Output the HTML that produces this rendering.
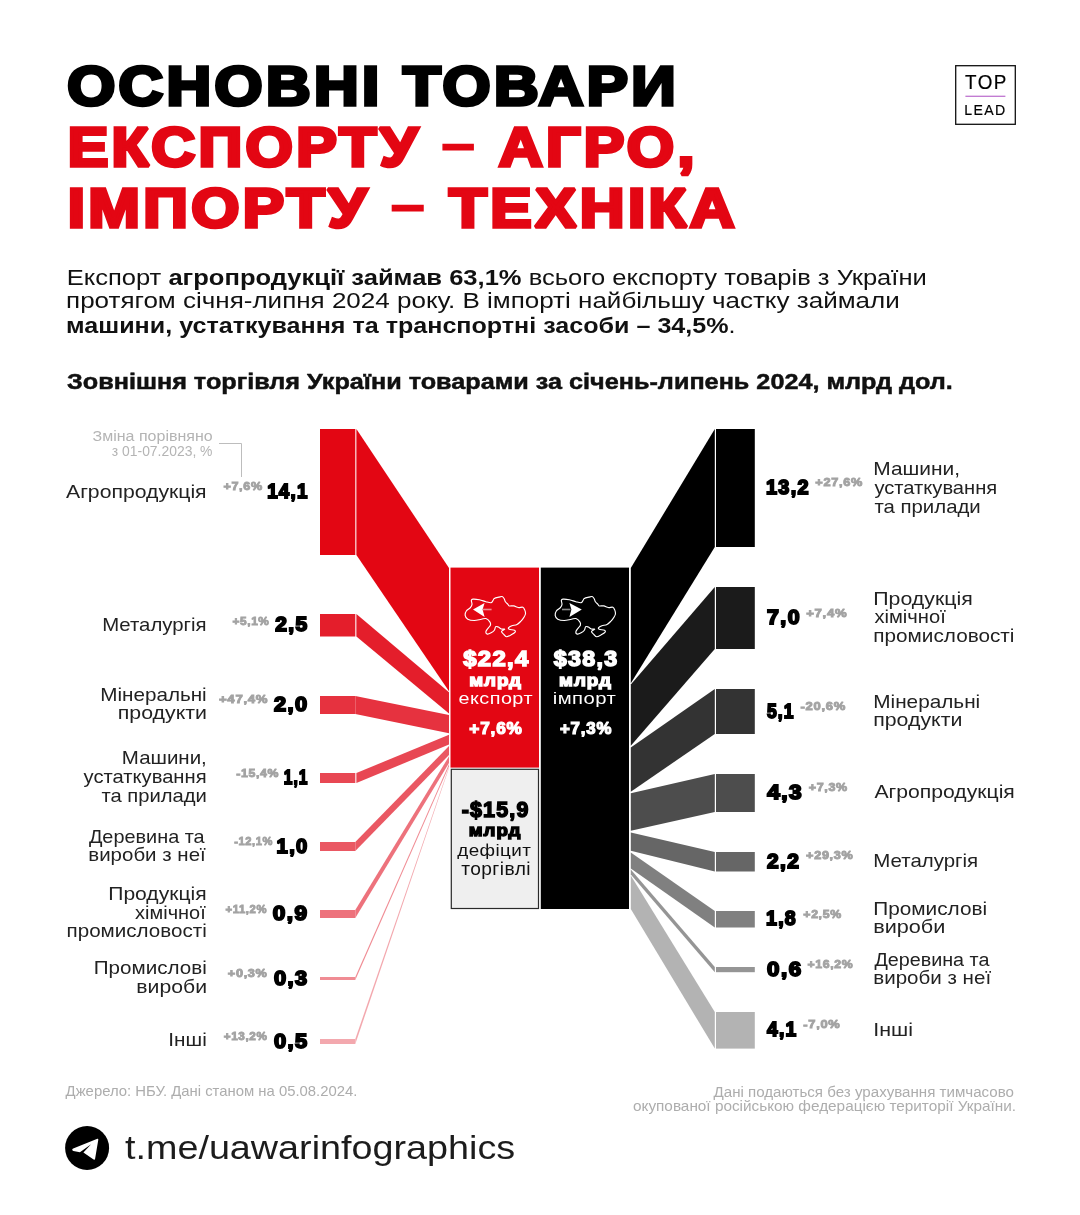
<!DOCTYPE html>
<html><head><meta charset="utf-8"><title>Основні товари експорту</title>
<style>html,body{margin:0;padding:0;background:#fff;width:1080px;height:1215px;overflow:hidden;position:relative}</style>
</head><body>
<svg width="1080" height="1215" viewBox="0 0 1080 1215" style="position:absolute;left:0;top:0;will-change:transform">
<rect width="1080" height="1215" fill="#fff"/>
<g font-family="Liberation Sans, sans-serif" style="white-space:pre">
<!-- logo box -->
<rect x="955.7" y="65.7" width="59.6" height="58.6" fill="none" stroke="#111" stroke-width="1.3"/>
<rect x="965.4" y="95.7" width="40" height="1.1" fill="#B45CC8"/>
<!-- connector -->
<polyline points="219,443.5 241.5,443.5 241.5,477" fill="none" stroke="#BDBDBD" stroke-width="1"/>
<rect x="320" y="429" width="35.3" height="126" fill="#E30613"/>
<polygon points="356.4,429 449,568 449,691.3 356.4,555" fill="#E30613"/>
<rect x="320" y="614" width="35.3" height="22.5" fill="#E41E2B"/>
<polygon points="356.4,614 449,692.3 449,713.6 356.4,636.5" fill="#E41E2B"/>
<rect x="320" y="696" width="35.3" height="18" fill="#E6323F"/>
<polygon points="355.3,696 449,715.1 449,733.2 355.3,714" fill="#E6323F"/>
<rect x="320" y="773" width="35.3" height="10" fill="#E84753"/>
<polygon points="356.4,773 449,734.8 449,744.6 356.4,783" fill="#E84753"/>
<rect x="320" y="842" width="35.3" height="9" fill="#EA5863"/>
<polygon points="355.3,842 449,746 449,755 355.3,851" fill="#EA5863"/>
<rect x="320" y="910" width="35.3" height="8" fill="#ED727C"/>
<polygon points="355.3,910 449,756.3 449,763 355.3,918" fill="#ED727C"/>
<rect x="320" y="977" width="35.3" height="3" fill="#F08C94"/>
<polygon points="355.3,977 449,764 449,766.2 355.3,980" fill="#F08C94"/>
<rect x="320" y="1039" width="35.3" height="5" fill="#F3A8AE"/>
<polygon points="355.3,1039 449,766.8 449,768 355.3,1044" fill="#F3A8AE"/>
<rect x="716" y="429" width="38.8" height="118" fill="#000000"/>
<polygon points="630.8,568 714.8,429 714.8,547 630.8,683.3" fill="#000000"/>
<rect x="716" y="587" width="38.8" height="62" fill="#1B1B1B"/>
<polygon points="630.8,684.6 714.8,587 714.8,649 630.8,745.8" fill="#1B1B1B"/>
<rect x="716" y="689" width="38.8" height="45" fill="#333333"/>
<polygon points="630.8,747.4 714.8,689 714.8,734 630.8,791.7" fill="#333333"/>
<rect x="716" y="774" width="38.8" height="38" fill="#4D4D4D"/>
<polygon points="630.8,793.2 714.8,774 714.8,812 630.8,830.8" fill="#4D4D4D"/>
<rect x="716" y="852" width="38.8" height="19.5" fill="#666666"/>
<polygon points="630.8,832.4 714.8,852 714.8,871.5 630.8,850.8" fill="#666666"/>
<rect x="716" y="911" width="38.8" height="16.5" fill="#808080"/>
<polygon points="630.8,852.4 714.8,911 714.8,927.5 630.8,868.5" fill="#808080"/>
<rect x="716" y="967" width="38.8" height="5.2000000000000455" fill="#959595"/>
<polygon points="630.8,869.6 714.8,967 714.8,972.2 630.8,874.6" fill="#959595"/>
<rect x="716" y="1012" width="38.8" height="36.59999999999991" fill="#B3B3B3"/>
<polygon points="630.8,875.6 714.8,1012 714.8,1048.6 630.8,909" fill="#B3B3B3"/>
<!-- central boxes -->
<rect x="450.5" y="567.6" width="88.5" height="200" fill="#E30613"/>
<rect x="540.8" y="567.6" width="88.2" height="341.4" fill="#000"/>
<rect x="451.3" y="769.3" width="87.2" height="139.2" fill="#EFEFEF" stroke="#2a2a2a" stroke-width="1.2"/>
<!-- maps -->
<g transform="translate(-90,0)"><path d="M561.34,600.43 C561.50,599.56 561.61,599.24 562.96,599.13 C564.31,599.02 567.28,599.34 569.44,599.78 C571.60,600.21 573.98,601.24 575.92,601.72 C577.87,602.21 579.92,602.91 581.11,602.69 C582.30,602.48 582.51,601.13 583.05,600.43 C583.59,599.72 583.38,599.02 584.35,598.48 C585.32,597.94 587.59,597.51 588.89,597.18 C590.18,596.86 591.26,596.32 592.13,596.54 C592.99,596.75 593.53,597.62 594.07,598.48 C594.61,599.34 594.72,600.75 595.37,601.72 C596.01,602.69 597.31,603.61 597.96,604.31 C598.61,605.02 598.28,605.66 599.25,605.93 C600.23,606.20 602.28,605.66 603.79,605.93 C605.30,606.20 606.82,607.34 608.33,607.55 C609.84,607.77 611.78,606.80 612.86,607.23 C613.94,607.66 614.38,609.01 614.81,610.15 C615.24,611.28 615.67,612.74 615.46,614.03 C615.24,615.33 614.27,616.74 613.51,617.92 C612.76,619.11 612.00,620.08 610.92,621.16 C609.84,622.24 608.54,623.65 607.03,624.40 C605.52,625.16 603.25,625.16 601.85,625.70 C600.44,626.24 599.04,627.05 598.61,627.64 C598.17,628.24 598.28,628.83 599.25,629.27 C600.23,629.70 603.47,629.75 604.44,630.24 C605.41,630.72 605.63,631.43 605.09,632.18 C604.55,632.94 602.60,634.02 601.20,634.77 C599.79,635.53 597.85,636.72 596.66,636.72 C595.47,636.72 594.93,635.64 594.07,634.77 C593.21,633.91 591.37,632.45 591.48,631.53 C591.59,630.62 594.72,629.70 594.72,629.27 C594.72,628.83 592.56,629.32 591.48,628.94 C590.40,628.56 589.21,627.37 588.24,627.00 C587.27,626.62 586.29,626.13 585.64,626.67 C585.00,627.21 585.10,629.21 584.35,630.24 C583.59,631.26 582.30,632.18 581.11,632.83 C579.92,633.48 578.08,634.34 577.22,634.13 C576.36,633.91 575.71,632.61 575.92,631.53 C576.14,630.45 577.76,628.72 578.52,627.64 C579.27,626.56 580.24,626.02 580.46,625.05 C580.68,624.08 580.57,622.89 579.81,621.81 C579.06,620.73 577.33,619.00 575.92,618.57 C574.52,618.14 573.33,618.90 571.39,619.22 C569.44,619.54 566.53,620.52 564.26,620.52 C561.99,620.52 559.29,620.08 557.78,619.22 C556.26,618.36 555.40,616.74 555.18,615.33 C554.97,613.93 555.62,612.09 556.48,610.79 C557.34,609.50 559.45,608.63 560.37,607.55 C561.29,606.47 561.83,605.50 561.99,604.31 C562.15,603.13 561.18,601.29 561.34,600.43 Z" fill="none" stroke="#fff" stroke-width="1.15" stroke-linejoin="round"/></g>
<path d="M473,609.5 L484.6,603 L482.6,609.5 L484.6,617 Z" fill="#fff"/>
<rect x="482.6" y="608.7" width="9" height="1.6" fill="#F08A91"/>
<path d="M561.34,600.43 C561.50,599.56 561.61,599.24 562.96,599.13 C564.31,599.02 567.28,599.34 569.44,599.78 C571.60,600.21 573.98,601.24 575.92,601.72 C577.87,602.21 579.92,602.91 581.11,602.69 C582.30,602.48 582.51,601.13 583.05,600.43 C583.59,599.72 583.38,599.02 584.35,598.48 C585.32,597.94 587.59,597.51 588.89,597.18 C590.18,596.86 591.26,596.32 592.13,596.54 C592.99,596.75 593.53,597.62 594.07,598.48 C594.61,599.34 594.72,600.75 595.37,601.72 C596.01,602.69 597.31,603.61 597.96,604.31 C598.61,605.02 598.28,605.66 599.25,605.93 C600.23,606.20 602.28,605.66 603.79,605.93 C605.30,606.20 606.82,607.34 608.33,607.55 C609.84,607.77 611.78,606.80 612.86,607.23 C613.94,607.66 614.38,609.01 614.81,610.15 C615.24,611.28 615.67,612.74 615.46,614.03 C615.24,615.33 614.27,616.74 613.51,617.92 C612.76,619.11 612.00,620.08 610.92,621.16 C609.84,622.24 608.54,623.65 607.03,624.40 C605.52,625.16 603.25,625.16 601.85,625.70 C600.44,626.24 599.04,627.05 598.61,627.64 C598.17,628.24 598.28,628.83 599.25,629.27 C600.23,629.70 603.47,629.75 604.44,630.24 C605.41,630.72 605.63,631.43 605.09,632.18 C604.55,632.94 602.60,634.02 601.20,634.77 C599.79,635.53 597.85,636.72 596.66,636.72 C595.47,636.72 594.93,635.64 594.07,634.77 C593.21,633.91 591.37,632.45 591.48,631.53 C591.59,630.62 594.72,629.70 594.72,629.27 C594.72,628.83 592.56,629.32 591.48,628.94 C590.40,628.56 589.21,627.37 588.24,627.00 C587.27,626.62 586.29,626.13 585.64,626.67 C585.00,627.21 585.10,629.21 584.35,630.24 C583.59,631.26 582.30,632.18 581.11,632.83 C579.92,633.48 578.08,634.34 577.22,634.13 C576.36,633.91 575.71,632.61 575.92,631.53 C576.14,630.45 577.76,628.72 578.52,627.64 C579.27,626.56 580.24,626.02 580.46,625.05 C580.68,624.08 580.57,622.89 579.81,621.81 C579.06,620.73 577.33,619.00 575.92,618.57 C574.52,618.14 573.33,618.90 571.39,619.22 C569.44,619.54 566.53,620.52 564.26,620.52 C561.99,620.52 559.29,620.08 557.78,619.22 C556.26,618.36 555.40,616.74 555.18,615.33 C554.97,613.93 555.62,612.09 556.48,610.79 C557.34,609.50 559.45,608.63 560.37,607.55 C561.29,606.47 561.83,605.50 561.99,604.31 C562.15,603.13 561.18,601.29 561.34,600.43 Z" fill="none" stroke="#fff" stroke-width="1.15" stroke-linejoin="round"/>
<path d="M581.8,609.5 L569.4,603 L571.4,609.5 L569.4,617 Z" fill="#fff"/>
<rect x="562" y="608.7" width="8.5" height="1.6" fill="#8A8A8A"/>
<!-- telegram -->
<circle cx="87.1" cy="1148" r="22" fill="#000"/>
<path d="M97.4,1138.8 L73.2,1148.6 C71.8,1149.3 72,1150.6 73.4,1151 L79.9,1152.2 L91.1,1144.2 L83.4,1152.6 L93.6,1159.6 C94.6,1160 95,1159.5 95.1,1158.8 L98.3,1139.8 C98.4,1139 98,1138.6 97.4,1138.8 Z" fill="#fff"/>
<text transform="matrix(1.1269 0 0 1 67.17 104.70)" font-size="54.8" fill="#000" stroke="#000" stroke-width="3.6" stroke-linejoin="miter" stroke-miterlimit="2" letter-spacing="3"><tspan font-weight="bold">ОСНОВНІ ТОВАРИ</tspan></text>
<text transform="matrix(1.1106 0 0 1 67.67 165.80)" font-size="54.8" fill="#E30613" stroke="#E30613" stroke-width="3.6" stroke-linejoin="miter" stroke-miterlimit="2" letter-spacing="3"><tspan font-weight="bold">ЕКСПОРТУ </tspan><tspan font-weight="bold" dy="-3.5" stroke-width="1.2">–</tspan><tspan font-weight="bold" dy="3.5"> АГРО,</tspan></text>
<text transform="matrix(1.1313 0 0 1 67.64 226.90)" font-size="54.8" fill="#E30613" stroke="#E30613" stroke-width="3.6" stroke-linejoin="miter" stroke-miterlimit="2" letter-spacing="3"><tspan font-weight="bold">ІМПОРТУ </tspan><tspan font-weight="bold" dy="-3.5" stroke-width="1.2">–</tspan><tspan font-weight="bold" dy="3.5"> ТЕХНІКА</tspan></text>
<text transform="matrix(0.9387 0 0 1 965.09 88.90)" font-size="20.06" fill="#000" stroke="#000" stroke-width="0.2" stroke-linejoin="miter" stroke-miterlimit="2" letter-spacing="1.5"><tspan font-weight="normal">TOP</tspan></text>
<text transform="matrix(0.9073 0 0 1 964.18 114.50)" font-size="15.55" fill="#000" stroke="#000" stroke-width="0.2" stroke-linejoin="miter" stroke-miterlimit="2" letter-spacing="1.5"><tspan font-weight="normal">LEAD</tspan></text>
<text transform="matrix(1.1272 0 0 1 66.67 284.80)" font-size="22.67" fill="#111"><tspan font-weight="normal">Експорт </tspan><tspan font-weight="bold">агропродукції займав 63,1%</tspan><tspan font-weight="normal"> всього експорту товарів з України</tspan></text>
<text transform="matrix(1.1481 0 0 1 66.05 308.10)" font-size="22.67" fill="#111"><tspan font-weight="normal">протягом січня-липня 2024 року. В імпорті найбільшу частку займали</tspan></text>
<text transform="matrix(1.1074 0 0 1 66.09 332.60)" font-size="22.67" fill="#111"><tspan font-weight="bold">машини, устаткування та транспортні засоби – 34,5%</tspan><tspan font-weight="normal">.</tspan></text>
<text transform="matrix(1.1343 0 0 1 66.98 388.85)" font-size="22.24" fill="#111" stroke="#111" stroke-width="0.5" stroke-linejoin="miter" stroke-miterlimit="2"><tspan font-weight="bold">Зовнішня торгівля України товарами за січень-липень 2024, млрд дол.</tspan></text>
<text transform="matrix(1.1359 0 0 1 92.50 440.50)" font-size="14.1" fill="#B4B4B4"><tspan font-weight="normal">Зміна порівняно</tspan></text>
<text transform="matrix(0.9861 0 0 1 111.80 456.10)" font-size="14.1" fill="#B4B4B4"><tspan font-weight="normal">з 01-07.2023, %</tspan></text>
<text transform="matrix(1.1672 0 0 1 66.00 497.50)" font-size="18.17" fill="#222222"><tspan font-weight="normal">Агропродукція</tspan></text>
<text transform="matrix(1.1210 0 0 1 102.18 630.80)" font-size="18.17" fill="#222222"><tspan font-weight="normal">Металургія</tspan></text>
<text transform="matrix(1.1381 0 0 1 100.26 700.60)" font-size="18.17" fill="#222222"><tspan font-weight="normal">Мінеральні</tspan></text>
<text transform="matrix(1.1740 0 0 1 117.83 719.20)" font-size="18.17" fill="#222222"><tspan font-weight="normal">продукти</tspan></text>
<text transform="matrix(1.1268 0 0 1 121.87 764.40)" font-size="18.17" fill="#222222"><tspan font-weight="normal">Машини,</tspan></text>
<text transform="matrix(1.1101 0 0 1 83.60 783.00)" font-size="18.17" fill="#222222"><tspan font-weight="normal">устаткування</tspan></text>
<text transform="matrix(1.1131 0 0 1 101.40 802.00)" font-size="18.17" fill="#222222"><tspan font-weight="normal">та прилади</tspan></text>
<text transform="matrix(1.0942 0 0 1 88.90 842.50)" font-size="18.17" fill="#222222"><tspan font-weight="normal">Деревина та</tspan></text>
<text transform="matrix(1.1275 0 0 1 88.27 861.00)" font-size="18.17" fill="#222222"><tspan font-weight="normal">вироби з неї</tspan></text>
<text transform="matrix(1.1605 0 0 1 108.24 900.30)" font-size="18.17" fill="#222222"><tspan font-weight="normal">Продукція</tspan></text>
<text transform="matrix(1.0979 0 0 1 135.10 919.30)" font-size="18.17" fill="#222222"><tspan font-weight="normal">хімічної</tspan></text>
<text transform="matrix(1.1344 0 0 1 66.57 937.30)" font-size="18.17" fill="#222222"><tspan font-weight="normal">промисловості</tspan></text>
<text transform="matrix(1.1355 0 0 1 93.76 974.40)" font-size="18.17" fill="#222222"><tspan font-weight="normal">Промислові</tspan></text>
<text transform="matrix(1.1665 0 0 1 136.33 993.40)" font-size="18.17" fill="#222222"><tspan font-weight="normal">вироби</tspan></text>
<text transform="matrix(1.1411 0 0 1 168.36 1046.40)" font-size="18.17" fill="#222222"><tspan font-weight="normal">Інші</tspan></text>
<text transform="matrix(1.1500 0 0 1 873.25 475.00)" font-size="18.17" fill="#222222"><tspan font-weight="normal">Машини,</tspan></text>
<text transform="matrix(1.1092 0 0 1 874.40 494.40)" font-size="18.17" fill="#222222"><tspan font-weight="normal">устаткування</tspan></text>
<text transform="matrix(1.1227 0 0 1 874.40 512.60)" font-size="18.17" fill="#222222"><tspan font-weight="normal">та прилади</tspan></text>
<text transform="matrix(1.1738 0 0 1 873.23 605.40)" font-size="18.17" fill="#222222"><tspan font-weight="normal">Продукція</tspan></text>
<text transform="matrix(1.1104 0 0 1 874.40 622.80)" font-size="18.17" fill="#222222"><tspan font-weight="normal">хімічної</tspan></text>
<text transform="matrix(1.1418 0 0 1 873.26 642.20)" font-size="18.17" fill="#222222"><tspan font-weight="normal">промисловості</tspan></text>
<text transform="matrix(1.1424 0 0 1 873.26 707.50)" font-size="18.17" fill="#222222"><tspan font-weight="normal">Мінеральні</tspan></text>
<text transform="matrix(1.1740 0 0 1 873.23 725.60)" font-size="18.17" fill="#222222"><tspan font-weight="normal">продукти</tspan></text>
<text transform="matrix(1.1664 0 0 1 874.40 798.30)" font-size="18.17" fill="#222222"><tspan font-weight="normal">Агропродукція</tspan></text>
<text transform="matrix(1.1265 0 0 1 873.27 866.70)" font-size="18.17" fill="#222222"><tspan font-weight="normal">Металургія</tspan></text>
<text transform="matrix(1.1447 0 0 1 873.26 915.30)" font-size="18.17" fill="#222222"><tspan font-weight="normal">Промислові</tspan></text>
<text transform="matrix(1.1904 0 0 1 873.21 933.30)" font-size="18.17" fill="#222222"><tspan font-weight="normal">вироби</tspan></text>
<text transform="matrix(1.0867 0 0 1 874.40 966.10)" font-size="18.17" fill="#222222"><tspan font-weight="normal">Деревина та</tspan></text>
<text transform="matrix(1.1314 0 0 1 873.27 984.20)" font-size="18.17" fill="#222222"><tspan font-weight="normal">вироби з неї</tspan></text>
<text transform="matrix(1.1790 0 0 1 873.22 1035.60)" font-size="18.17" fill="#222222"><tspan font-weight="normal">Інші</tspan></text>
<text transform="matrix(0.9544 0 0 1 267.20 498.05)" font-size="19.62" fill="#000" stroke="#000" stroke-width="1.8" stroke-linejoin="miter" stroke-miterlimit="2" letter-spacing="1.3"><tspan font-weight="bold">14,1</tspan></text>
<text transform="matrix(1.1248 0 0 1 223.41 490.15)" font-size="11.19" fill="#A3A3A3" stroke="#A3A3A3" stroke-width="0.9" stroke-linejoin="miter" stroke-miterlimit="2" letter-spacing="0.6"><tspan font-weight="bold">+7,6%</tspan></text>
<text transform="matrix(1.0707 0 0 1 275.26 631.30)" font-size="19.62" fill="#000" stroke="#000" stroke-width="1.8" stroke-linejoin="miter" stroke-miterlimit="2" letter-spacing="1.3"><tspan font-weight="bold">2,5</tspan></text>
<text transform="matrix(1.0569 0 0 1 232.48 624.55)" font-size="11.19" fill="#A3A3A3" stroke="#A3A3A3" stroke-width="0.9" stroke-linejoin="miter" stroke-miterlimit="2" letter-spacing="0.6"><tspan font-weight="bold">+5,1%</tspan></text>
<text transform="matrix(1.1117 0 0 1 274.00 711.05)" font-size="19.62" fill="#000" stroke="#000" stroke-width="1.8" stroke-linejoin="miter" stroke-miterlimit="2" letter-spacing="1.3"><tspan font-weight="bold">2,0</tspan></text>
<text transform="matrix(1.1799 0 0 1 218.93 703.15)" font-size="11.19" fill="#A3A3A3" stroke="#A3A3A3" stroke-width="0.9" stroke-linejoin="miter" stroke-miterlimit="2" letter-spacing="0.6"><tspan font-weight="bold">+47,4%</tspan></text>
<text transform="matrix(0.7934 0 0 1 283.82 784.05)" font-size="19.62" fill="#000" stroke="#000" stroke-width="1.8" stroke-linejoin="miter" stroke-miterlimit="2" letter-spacing="1.3"><tspan font-weight="bold">1,1</tspan></text>
<text transform="matrix(1.0990 0 0 1 236.19 776.65)" font-size="11.19" fill="#A3A3A3" stroke="#A3A3A3" stroke-width="0.9" stroke-linejoin="miter" stroke-miterlimit="2" letter-spacing="0.6"><tspan font-weight="bold">-15,4%</tspan></text>
<text transform="matrix(1.0275 0 0 1 276.60 852.55)" font-size="19.62" fill="#000" stroke="#000" stroke-width="1.8" stroke-linejoin="miter" stroke-miterlimit="2" letter-spacing="1.3"><tspan font-weight="bold">1,0</tspan></text>
<text transform="matrix(0.9949 0 0 1 234.25 845.15)" font-size="11.19" fill="#A3A3A3" stroke="#A3A3A3" stroke-width="0.9" stroke-linejoin="miter" stroke-miterlimit="2" letter-spacing="0.6"><tspan font-weight="bold">-12,1%</tspan></text>
<text transform="matrix(1.1495 0 0 1 272.83 920.05)" font-size="19.62" fill="#000" stroke="#000" stroke-width="1.8" stroke-linejoin="miter" stroke-miterlimit="2" letter-spacing="1.3"><tspan font-weight="bold">0,9</tspan></text>
<text transform="matrix(1.0099 0 0 1 225.45 913.15)" font-size="11.19" fill="#A3A3A3" stroke="#A3A3A3" stroke-width="0.9" stroke-linejoin="miter" stroke-miterlimit="2" letter-spacing="0.6"><tspan font-weight="bold">+11,2%</tspan></text>
<text transform="matrix(1.1117 0 0 1 274.00 984.55)" font-size="19.62" fill="#000" stroke="#000" stroke-width="1.8" stroke-linejoin="miter" stroke-miterlimit="2" letter-spacing="1.3"><tspan font-weight="bold">0,3</tspan></text>
<text transform="matrix(1.1361 0 0 1 227.81 977.45)" font-size="11.19" fill="#A3A3A3" stroke="#A3A3A3" stroke-width="0.9" stroke-linejoin="miter" stroke-miterlimit="2" letter-spacing="0.6"><tspan font-weight="bold">+0,3%</tspan></text>
<text transform="matrix(1.1117 0 0 1 274.00 1047.55)" font-size="19.62" fill="#000" stroke="#000" stroke-width="1.8" stroke-linejoin="miter" stroke-miterlimit="2" letter-spacing="1.3"><tspan font-weight="bold">0,5</tspan></text>
<text transform="matrix(1.0496 0 0 1 223.67 1040.15)" font-size="11.19" fill="#A3A3A3" stroke="#A3A3A3" stroke-width="0.9" stroke-linejoin="miter" stroke-miterlimit="2" letter-spacing="0.6"><tspan font-weight="bold">+13,2%</tspan></text>
<text transform="matrix(1.0126 0 0 1 766.00 494.05)" font-size="19.62" fill="#000" stroke="#000" stroke-width="1.8" stroke-linejoin="miter" stroke-miterlimit="2" letter-spacing="1.3"><tspan font-weight="bold">13,2</tspan></text>
<text transform="matrix(1.1372 0 0 1 815.31 485.75)" font-size="11.19" fill="#A3A3A3" stroke="#A3A3A3" stroke-width="0.9" stroke-linejoin="miter" stroke-miterlimit="2" letter-spacing="0.6"><tspan font-weight="bold">+27,6%</tspan></text>
<text transform="matrix(1.0865 0 0 1 767.08 624.05)" font-size="19.62" fill="#000" stroke="#000" stroke-width="1.8" stroke-linejoin="miter" stroke-miterlimit="2" letter-spacing="1.3"><tspan font-weight="bold">7,0</tspan></text>
<text transform="matrix(1.1728 0 0 1 806.23 616.65)" font-size="11.19" fill="#A3A3A3" stroke="#A3A3A3" stroke-width="0.9" stroke-linejoin="miter" stroke-miterlimit="2" letter-spacing="0.6"><tspan font-weight="bold">+7,4%</tspan></text>
<text transform="matrix(0.8912 0 0 1 766.90 717.55)" font-size="19.62" fill="#000" stroke="#000" stroke-width="1.8" stroke-linejoin="miter" stroke-miterlimit="2" letter-spacing="1.3"><tspan font-weight="bold">5,1</tspan></text>
<text transform="matrix(1.1624 0 0 1 800.52 710.15)" font-size="11.19" fill="#A3A3A3" stroke="#A3A3A3" stroke-width="0.9" stroke-linejoin="miter" stroke-miterlimit="2" letter-spacing="0.6"><tspan font-weight="bold">-20,6%</tspan></text>
<text transform="matrix(1.1558 0 0 1 767.14 799.05)" font-size="19.62" fill="#000" stroke="#000" stroke-width="1.8" stroke-linejoin="miter" stroke-miterlimit="2" letter-spacing="1.3"><tspan font-weight="bold">4,3</tspan></text>
<text transform="matrix(1.1163 0 0 1 808.80 790.65)" font-size="11.19" fill="#A3A3A3" stroke="#A3A3A3" stroke-width="0.9" stroke-linejoin="miter" stroke-miterlimit="2" letter-spacing="0.6"><tspan font-weight="bold">+7,3%</tspan></text>
<text transform="matrix(1.0676 0 0 1 767.06 867.80)" font-size="19.62" fill="#000" stroke="#000" stroke-width="1.8" stroke-linejoin="miter" stroke-miterlimit="2" letter-spacing="1.3"><tspan font-weight="bold">2,2</tspan></text>
<text transform="matrix(1.1301 0 0 1 806.11 858.75)" font-size="11.19" fill="#A3A3A3" stroke="#A3A3A3" stroke-width="0.9" stroke-linejoin="miter" stroke-miterlimit="2" letter-spacing="0.6"><tspan font-weight="bold">+29,3%</tspan></text>
<text transform="matrix(0.9950 0 0 1 766.00 925.30)" font-size="19.62" fill="#000" stroke="#000" stroke-width="1.8" stroke-linejoin="miter" stroke-miterlimit="2" letter-spacing="1.3"><tspan font-weight="bold">1,8</tspan></text>
<text transform="matrix(1.0993 0 0 1 803.29 918.15)" font-size="11.19" fill="#A3A3A3" stroke="#A3A3A3" stroke-width="0.9" stroke-linejoin="miter" stroke-miterlimit="2" letter-spacing="0.6"><tspan font-weight="bold">+2,5%</tspan></text>
<text transform="matrix(1.1369 0 0 1 767.12 975.65)" font-size="19.62" fill="#000" stroke="#000" stroke-width="1.8" stroke-linejoin="miter" stroke-miterlimit="2" letter-spacing="1.3"><tspan font-weight="bold">0,6</tspan></text>
<text transform="matrix(1.0970 0 0 1 807.49 968.15)" font-size="11.19" fill="#A3A3A3" stroke="#A3A3A3" stroke-width="0.9" stroke-linejoin="miter" stroke-miterlimit="2" letter-spacing="0.6"><tspan font-weight="bold">+16,2%</tspan></text>
<text transform="matrix(0.9794 0 0 1 766.98 1036.35)" font-size="19.62" fill="#000" stroke="#000" stroke-width="1.8" stroke-linejoin="miter" stroke-miterlimit="2" letter-spacing="1.3"><tspan font-weight="bold">4,1</tspan></text>
<text transform="matrix(1.1511 0 0 1 803.32 1028.45)" font-size="11.19" fill="#A3A3A3" stroke="#A3A3A3" stroke-width="0.9" stroke-linejoin="miter" stroke-miterlimit="2" letter-spacing="0.6"><tspan font-weight="bold">-7,0%</tspan></text>
<text transform="matrix(1.0968 0 0 1 463.22 666.25)" font-size="21.8" fill="#fff" stroke="#fff" stroke-width="1.5" stroke-linejoin="miter" stroke-miterlimit="2" letter-spacing="1.2"><tspan font-weight="bold">$22,4</tspan></text>
<text transform="matrix(1.1405 0 0 1 469.20 685.65)" font-size="16.48" fill="#fff" stroke="#fff" stroke-width="1.3" stroke-linejoin="miter" stroke-miterlimit="2" letter-spacing="0.9"><tspan font-weight="bold">млрд</tspan></text>
<text transform="matrix(1.1504 0 0 1 458.50 704.40)" font-size="17.23" fill="#fff" letter-spacing="0.4"><tspan font-weight="normal">експорт</tspan></text>
<text transform="matrix(1.0385 0 0 1 469.32 734.20)" font-size="16.57" fill="#fff" stroke="#fff" stroke-width="1.2" stroke-linejoin="miter" stroke-miterlimit="2" letter-spacing="0.8"><tspan font-weight="bold">+7,6%</tspan></text>
<text transform="matrix(1.0671 0 0 1 553.80 666.25)" font-size="21.8" fill="#fff" stroke="#fff" stroke-width="1.5" stroke-linejoin="miter" stroke-miterlimit="2" letter-spacing="1.2"><tspan font-weight="bold">$38,3</tspan></text>
<text transform="matrix(1.1405 0 0 1 559.00 685.65)" font-size="16.48" fill="#fff" stroke="#fff" stroke-width="1.3" stroke-linejoin="miter" stroke-miterlimit="2" letter-spacing="0.9"><tspan font-weight="bold">млрд</tspan></text>
<text transform="matrix(1.1770 0 0 1 552.72 704.40)" font-size="17.23" fill="#fff" letter-spacing="0.4"><tspan font-weight="normal">імпорт</tspan></text>
<text transform="matrix(1.0135 0 0 1 560.01 734.20)" font-size="16.57" fill="#fff" stroke="#fff" stroke-width="1.2" stroke-linejoin="miter" stroke-miterlimit="2" letter-spacing="0.8"><tspan font-weight="bold">+7,3%</tspan></text>
<text transform="matrix(0.9970 0 0 1 461.65 817.35)" font-size="21.51" fill="#000" stroke="#000" stroke-width="1.5" stroke-linejoin="miter" stroke-miterlimit="2" letter-spacing="1.2"><tspan font-weight="bold">-$15,9</tspan></text>
<text transform="matrix(1.1911 0 0 1 468.68 836.15)" font-size="15.72" fill="#000" stroke="#000" stroke-width="1.3" stroke-linejoin="miter" stroke-miterlimit="2" letter-spacing="0.9"><tspan font-weight="bold">млрд</tspan></text>
<text transform="matrix(1.0934 0 0 1 457.20 855.90)" font-size="17.23" fill="#111" letter-spacing="0.4"><tspan font-weight="normal">дефіцит</tspan></text>
<text transform="matrix(1.0889 0 0 1 461.20 874.60)" font-size="17.61" fill="#111" letter-spacing="0.4"><tspan font-weight="normal">торгівлі</tspan></text>
<text transform="matrix(1.0548 0 0 1 65.60 1096.40)" font-size="14.1" fill="#ADADAD"><tspan font-weight="normal">Джерело: НБУ. Дані станом на 05.08.2024.</tspan></text>
<text transform="matrix(1.0727 0 0 1 713.50 1096.50)" font-size="14.1" fill="#ADADAD"><tspan font-weight="normal">Дані подаються без урахування тимчасово</tspan></text>
<text transform="matrix(1.0879 0 0 1 633.00 1111.30)" font-size="14.1" fill="#ADADAD"><tspan font-weight="normal">окупованої російською федерацією території України.</tspan></text>
<text transform="matrix(1.1263 0 0 1 125.00 1159.40)" font-size="33.52" fill="#1c1c1c"><tspan font-weight="normal">t.me/uawarinfographics</tspan></text>
</g>
</svg>
</body></html>
